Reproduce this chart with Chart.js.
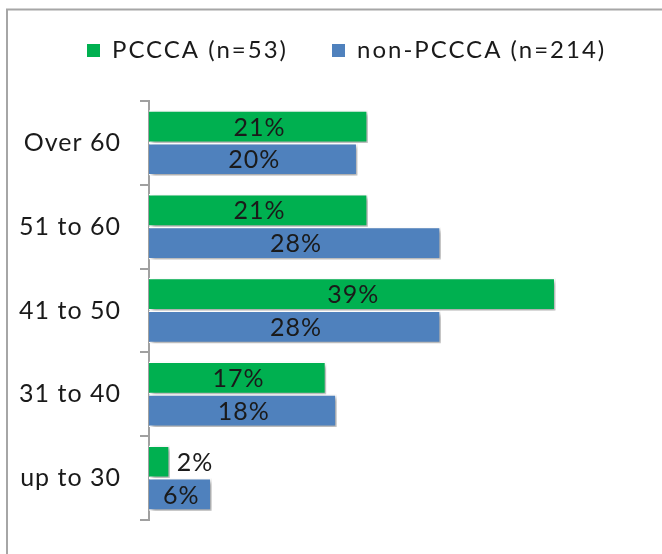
<!DOCTYPE html>
<html>
<head>
<meta charset="utf-8">
<script src="https://cdn.jsdelivr.net/npm/chart.js@4.4.1/dist/chart.umd.min.js"></script>
<style>
  html, body { margin: 0; padding: 0; background: #ffffff; }
  #wrap { position: absolute; left: 0; top: 0; width: 662px; height: 554px; }
</style>
</head>
<body>
<div id="wrap"><canvas id="c" width="662" height="554"></canvas></div>
<script>
const categories = ['Over 60', '51 to 60', '41 to 50', '31 to 40', 'up to 30'];
const seriesNames = ['PCCCA (n=53)', 'non-PCCCA (n=214)'];
const pcccaValues = [21, 21, 39, 17, 2];
const nonPcccaValues = [20, 28, 28, 18, 6];

const FONT = 'Lato, "Open Sans", sans-serif';
const TEXT_COLOR = '#1a1a1a';
const LEGEND_SPACING = '2px';
const BASE_SPACING = '1px';

const framePlugin = {
  id: 'frame',
  afterInit(chart) {
    chart.ctx.letterSpacing = BASE_SPACING;
  },
  beforeDraw(chart) {
    const ctx = chart.ctx;
    ctx.letterSpacing = BASE_SPACING;
    ctx.save();
    ctx.strokeStyle = '#a6a6a6';
    ctx.lineWidth = 2;
    ctx.strokeRect(7, 9.5, 800, 800);
    ctx.restore();
  }
};

const legendPlugin = {
  id: 'legendTune',
  beforeLayout(chart) {
    const lg = chart.legend;
    if (lg && !lg._patched) {
      const origFit = lg.fit;
      lg.fit = function () {
        const prev = this.ctx.letterSpacing;
        this.ctx.letterSpacing = LEGEND_SPACING;
        origFit.call(this);
        this.ctx.letterSpacing = prev;
        this.height = 101;
      };
      const origDraw = lg.draw;
      lg.draw = function () {
        const prev = this.ctx.letterSpacing;
        this.ctx.letterSpacing = LEGEND_SPACING;
        origDraw.apply(this, arguments);
        this.ctx.letterSpacing = prev;
      };
      lg._patched = true;
    }
  },
  afterLayout(chart) {
    const lg = chart.legend;
    if (!lg || !lg.lineWidths) return;
    const pad = lg.options.labels.padding;
    const x0 = (lg.left + pad + lg.right - lg.lineWidths[0]) / 2;
    const d = 87 - x0;
    lg.left += d;
    lg.right += d;
    lg.top = 38.5 - pad;
  }
};

const shadowLabelPlugin = {
  id: 'shadowLabels',
  beforeDatasetsDraw(chart) {
    const ctx = chart.ctx;
    ctx.save();
    ctx.shadowColor = 'rgba(0,0,0,0.35)';
    ctx.shadowBlur = 4;
    ctx.shadowOffsetX = 2.5;
    ctx.shadowOffsetY = 2.5;
  },
  afterDatasetsDraw(chart) {
    const ctx = chart.ctx;
    ctx.restore();
    ctx.save();
    ctx.font = '25px ' + FONT;
    ctx.fillStyle = TEXT_COLOR;
    ctx.textBaseline = 'middle';
    chart.data.datasets.forEach((ds, di) => {
      const meta = chart.getDatasetMeta(di);
      meta.data.forEach((bar, i) => {
        const txt = ds.data[i] + '%';
        const w = ctx.measureText(txt).width;
        const len = bar.x - bar.base;
        if (len > w + 10) {
          ctx.textAlign = 'center';
          ctx.fillText(txt, (bar.x + bar.base) / 2 + 1, bar.y + 1);
        } else {
          ctx.textAlign = 'left';
          ctx.fillText(txt, bar.x + 7, bar.y + 1);
        }
      });
    });
    ctx.restore();
  }
};

new Chart(document.getElementById('c'), {
  type: 'bar',
  data: {
    labels: categories,
    datasets: [
      {
        label: seriesNames[0],
        data: pcccaValues,
        backgroundColor: '#00b050',
        borderColor: '#ffffff',
        borderWidth: 1.5,
        categoryPercentage: 0.78,
        barPercentage: 1.0
      },
      {
        label: seriesNames[1],
        data: nonPcccaValues,
        backgroundColor: '#4f81bd',
        borderColor: '#ffffff',
        borderWidth: 1.5,
        categoryPercentage: 0.78,
        barPercentage: 1.0
      }
    ]
  },
  options: {
    indexAxis: 'y',
    responsive: false,
    animation: false,
    devicePixelRatio: 1,
    layout: { padding: { left: 0, right: 44, top: 0, bottom: 22 } },
    plugins: {
      legend: {
        display: true,
        position: 'top',
        labels: {
          boxWidth: 13,
          boxHeight: 13,
          padding: 44,
          color: TEXT_COLOR,
          font: { family: FONT, size: 24 },
          generateLabels(chart) {
            const items = Chart.defaults.plugins.legend.labels.generateLabels(chart);
            items.forEach(it => { it.lineWidth = 0; it.strokeStyle = 'rgba(0,0,0,0)'; });
            return items;
          }
        }
      },
      tooltip: { enabled: false }
    },
    scales: {
      x: {
        display: false,
        min: 0,
        max: 45
      },
      y: {
        afterFit(scale) { scale.width = 149; },
        grid: {
          display: true,
          drawOnChartArea: false,
          drawTicks: true,
          tickLength: 9,
          color: '#a0a0a0',
          lineWidth: 2,
          offset: true
        },
        border: { display: true, color: '#a0a0a0', width: 2 },
        ticks: {
          color: TEXT_COLOR,
          padding: 19,
          font: { family: FONT, size: 25 }
        }
      }
    }
  },
  plugins: [framePlugin, legendPlugin, shadowLabelPlugin]
});
</script>
</body>
</html>
